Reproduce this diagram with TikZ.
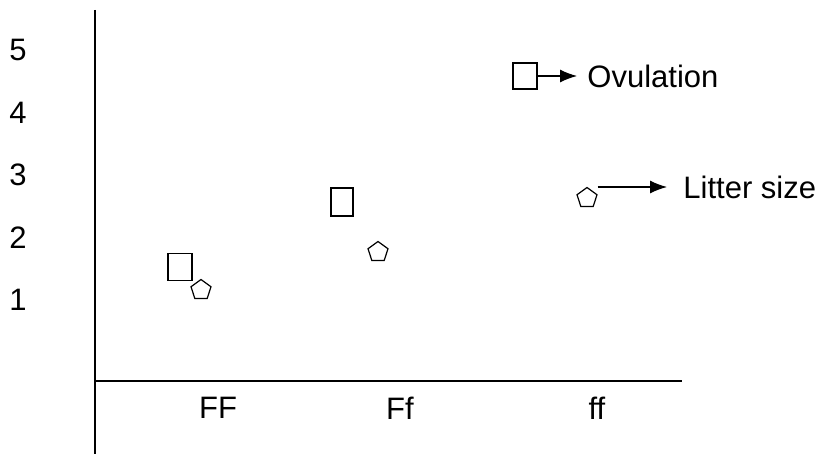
\documentclass[tikz,border=0pt]{standalone}
\usepackage{fontspec}
\setmainfont{Liberation Sans}
\usetikzlibrary{shapes.geometric, arrows.meta}
\tikzset{>={Latex[length=8.5pt,width=6.5pt]}}
\tikzset{
  ovlbox/.style={draw, line width=0.7pt, rectangle, inner sep=0pt},
  litpent/.style={draw, line width=0.6pt, regular polygon, regular polygon sides=5, minimum size=10.5pt, inner sep=0pt},
  lbl/.style={font=\fontsize{15.5}{18}\selectfont, inner sep=0pt}
}

\begin{document}
\begin{tikzpicture}[x=0.5pt, y=-0.5pt]
\useasboundingbox (0,0) rectangle (822,454);

% axes
\draw[line width=0.7pt] (95,10) -- (95,454);
\draw[line width=0.7pt] (95,381) -- (682,381);

% y labels
\node[lbl] (y5) at (18,50) {5};
\node[lbl] (y4) at (18,113) {4};
\node[lbl] (y3) at (18,175) {3};
\node[lbl] (y2) at (18,238) {2};
\node[lbl] (y1) at (18,300) {1};

% x labels
\node[lbl] (xFF) at (218,408) {FF};
\node[lbl] (xFf) at (400,408) {Ff};
\node[lbl] (xff) at (597,408) {ff};

% data
\node[ovlbox, minimum width=12pt, minimum height=13.5pt] (ovFF) at (180,267) {};
\node[litpent] (ltFF) at (201,290) {};
\node[ovlbox, minimum width=11pt, minimum height=14pt] (ovFf) at (342,202) {};
\node[litpent] (ltFf) at (378,252) {};

% legend
\node[ovlbox, minimum width=12pt, minimum height=13pt] (ovl) at (525,76) {};
\node[lbl, anchor=west, inner xsep=5pt] (ovltxt) at (577,76) {Ovulation};
\draw[->, line width=0.6pt] (ovl.east) -- (ovltxt.west);

\node[litpent] (lpen) at (587,198) {};
\node[lbl, anchor=west] (littxt) at (683,187) {Litter size};
\draw[->, line width=0.6pt, shorten >=8pt] (lpen.corner 5 |- littxt.west) -- (littxt.west);
\end{tikzpicture}
\end{document}
